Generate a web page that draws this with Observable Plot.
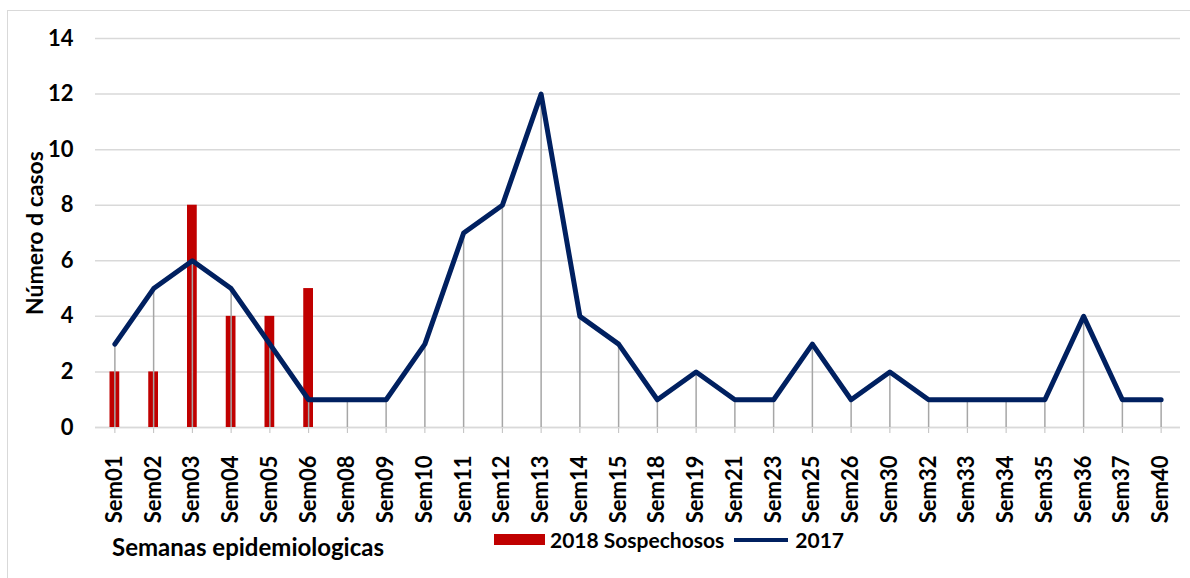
<!DOCTYPE html>
<html><head><meta charset="utf-8">
<script src="https://cdn.jsdelivr.net/npm/d3@7"></script>
<script src="https://cdn.jsdelivr.net/npm/@observablehq/plot@0.6"></script>
<style>
body{margin:0;background:#fff;}
#wrap{position:relative;width:1190px;height:578px;overflow:hidden;font-family:Lato,"Open Sans",sans-serif;font-weight:700;color:#000;}
#frame{position:absolute;left:7px;top:10px;width:1200px;height:600px;border:1.5px solid #d9d9d9;box-sizing:border-box;}
#chart{position:absolute;left:0;top:0;}
#xtitle{position:absolute;left:112px;top:532px;font-size:24px;white-space:nowrap;}
#legend{position:absolute;left:494px;top:527px;font-size:21px;display:flex;align-items:center;white-space:nowrap;}
.sw-bar{display:inline-block;width:51px;height:11px;background:#c00000;margin-right:5px;}
.sw-line{display:inline-block;width:54px;height:4px;background:#002060;margin:0 7px 0 10px;}
</style></head>
<body>
<div id="wrap">
  <div id="frame"></div>
  <div id="chart"></div>
  <div id="xtitle">Semanas epidemiologicas</div>
  <div id="legend"><span class="sw-bar"></span><span>2018 Sospechosos</span><span class="sw-line"></span><span>2017</span></div>
</div>
<script>
const semanas = ["Sem01","Sem02","Sem03","Sem04","Sem05","Sem06","Sem08","Sem09","Sem10","Sem11","Sem12","Sem13","Sem14","Sem15","Sem18","Sem19","Sem21","Sem23","Sem25","Sem26","Sem30","Sem32","Sem33","Sem34","Sem35","Sem36","Sem37","Sem40"];
const casos2017 = [3,5,6,5,3,1,1,1,3,7,8,12,4,3,1,2,1,1,3,1,2,1,1,1,1,4,1,1];
const semanas2018 = ["Sem01","Sem02","Sem03","Sem04","Sem05","Sem06"];
const sospechosos2018 = [2,2,8,4,4,5];
const yTicks = [0,2,4,6,8,10,12,14];

const linea = semanas.map((s,i)=>({sem:s, v:casos2017[i]}));
const barras = semanas2018.map((s,i)=>({sem:s, v:sospechosos2018[i]}));

const chart = Plot.plot({
  width:1190, height:578,
  marginLeft:95, marginRight:10, marginTop:38, marginBottom:151,
  x:{type:"band", domain:semanas, padding:0, round:false},
  y:{domain:[0,14]},
  style:{fontFamily:'Lato,"Open Sans",sans-serif', fontWeight:700, fontSize:"21px", color:"#000", background:"transparent"},
  marks:[
    Plot.gridY(yTicks, {stroke:"#d9d9d9", strokeOpacity:1, strokeWidth:1.5}),
    Plot.axisY(yTicks, {tickSize:0, tickPadding:22, label:null, fontSize:22, fontWeight:700}),
    Plot.axisX({tickSize:6, tickRotate:-90, tickPadding:22, label:null, stroke:"#bfbfbf", strokeOpacity:1, fill:"#000", fontSize:22, fontWeight:700}),
    Plot.ruleY([0], {stroke:"#d9d9d9", strokeWidth:1.5}),
    Plot.barY(barras, {x:"sem", y:"v", fill:"#c00000", insetLeft:14.5, insetRight:14.5}),
    Plot.ruleX(linea, {x:"sem", y1:0, y2:"v", stroke:"#a6a6a6", strokeWidth:1.5}),
    Plot.lineY(linea, {x:"sem", y:"v", stroke:"#002060", strokeWidth:5, strokeLinejoin:"round", strokeLinecap:"round"}),
    Plot.text(["Número d casos"], {frameAnchor:"left", textAnchor:"middle", rotate:-90, dx:-60, fontSize:23, fontWeight:700})
  ]
});
document.getElementById("chart").appendChild(chart);
</script>
</body></html>
